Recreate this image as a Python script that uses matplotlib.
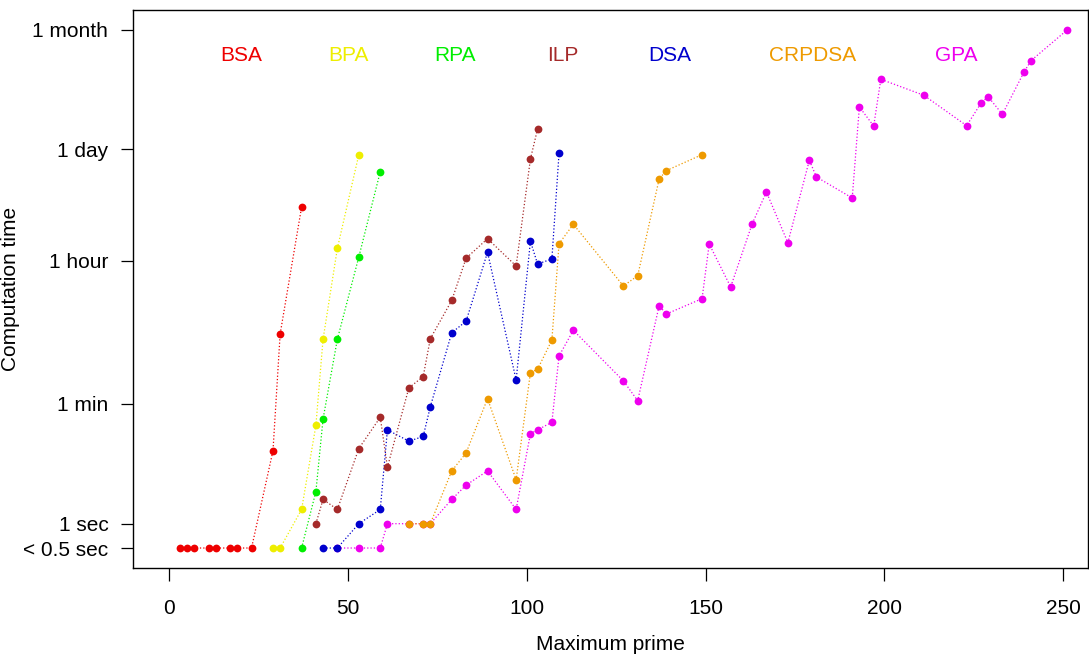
import numpy as np
import matplotlib
matplotlib.use("Agg")
import matplotlib.pyplot as plt

plt.rcParams['font.family'] = ['Liberation Sans', 'DejaVu Sans']

# computation time in seconds (0 means "< 0.5 sec")
bsa_x = [3, 5, 7, 11, 13, 17, 19, 23, 29, 31, 37]
bsa_y = [0, 0, 0, 0, 0, 0, 0, 0, 15, 445, 16600]

bpa_x = [29, 31, 37, 41, 43, 47, 53]
bpa_y = [0, 0, 2, 32, 382, 5100, 73800]

rpa_x = [37, 41, 43, 47, 53, 59]
rpa_y = [0, 4, 38.5, 382, 3990, 45400]

ilp_x = [41, 43, 47, 53, 59, 61, 67, 71, 73, 79, 83, 89, 97, 101, 103]
ilp_y = [1, 3, 2, 16, 40.5, 9, 95, 131, 388, 1160, 3850, 6730, 3090, 65200, 153600]

dsa_x = [43, 47, 53, 59, 61, 67, 71, 73, 79, 83, 89, 97, 101, 103, 107, 109]
dsa_y = [0, 0, 1, 2, 28, 20, 23, 55, 461, 639, 4570, 119, 6250, 3270, 3775, 76700]

crpdsa_x = [67, 71, 73, 79, 83, 89, 97, 101, 103, 107, 109, 113, 127, 131, 137, 139, 149]
crpdsa_y = [1, 1, 1, 8, 14, 69.5, 6, 147, 162, 374, 5830, 10140, 1750, 2340, 36900, 46800, 73800]

gpa_x = [47, 53, 59, 61, 67, 71, 73, 79, 83, 89, 97, 101, 103, 107, 109, 113, 127, 131,
         137, 139, 149, 151, 157, 163, 167, 173, 179, 181, 191, 193, 197, 199, 211, 223,
         227, 229, 233, 239, 241, 251]
gpa_y = [0, 0, 0, 1, 1, 1, 1, 3, 5, 8, 2, 25, 28, 35, 237, 494, 116, 65.5,
         996, 786, 1216, 5780, 1700, 10230, 25470, 6000, 62800, 39000, 21470, 287000, 167000, 632000, 401000, 168500,
         319000, 385000, 233000, 771000, 1074000, 2553000]

names = ["BSA", "BPA", "RPA", "ILP", "DSA", "CRPDSA", "GPA"]
colors = ["#EE0000", "#EEEE00", "#00EE00", "#A52A2A", "#0000CD", "#EE9A00", "#EE00EE"]
label_x = [20, 50, 80, 110, 140, 180, 220]

tick_vals = [0, 1, 60, 3600, 86400, 2592000]
tick_labels = ["< 0.5 sec", "1 sec", "1 min", "1 hour", "1 day", "1 month"]

series = [(bsa_x, bsa_y), (bpa_x, bpa_y), (rpa_x, rpa_y), (ilp_x, ilp_y),
          (dsa_x, dsa_y), (crpdsa_x, crpdsa_y), (gpa_x, gpa_y)]

fig = plt.figure(figsize=(10.89, 6.56), dpi=100)
ax = fig.add_axes([133.3 / 1089, 1 - 568.3 / 656, (1087.5 - 133.3) / 1089, (568.3 - 10) / 656])

ax.set_yscale('function', functions=(lambda t: np.log10(np.maximum(t + 1, 1e-9)),
                                     lambda v: 10 ** v - 1))

# last series first, so BSA ends up on top
for (xs, ys), c in reversed(list(zip(series, colors))):
    ax.plot(xs, ys, linestyle=':', color=c, linewidth=0.9,
            marker='o', markersize=5.6, markeredgewidth=0)

for name, c, lx in zip(names, colors, label_x):
    ax.text(lx, 0.919, name, color=c, fontsize=15, ha='center', va='center',
            transform=ax.get_xaxis_transform())

ax.set_xlim(-10.07, 256.8)
ax.set_ylim(10 ** -0.251 - 1, 10 ** 6.658 - 1)
ax.set_xticks([0, 50, 100, 150, 200, 250])
ax.set_yticks(tick_vals)
ax.set_yticklabels(tick_labels)
ax.minorticks_off()
ax.tick_params(axis='both', labelsize=15, length=9, width=0.9, direction='out')
ax.tick_params(axis='x', pad=13)
ax.tick_params(axis='y', pad=9)
for s in ax.spines.values():
    s.set_linewidth(1)

ax.set_xlabel("Maximum prime", fontsize=15, labelpad=12)
ax.set_ylabel("Computation time", fontsize=15)
ax.yaxis.set_label_coords(-0.119, 0.5)

fig.savefig("out.png", dpi=100)
